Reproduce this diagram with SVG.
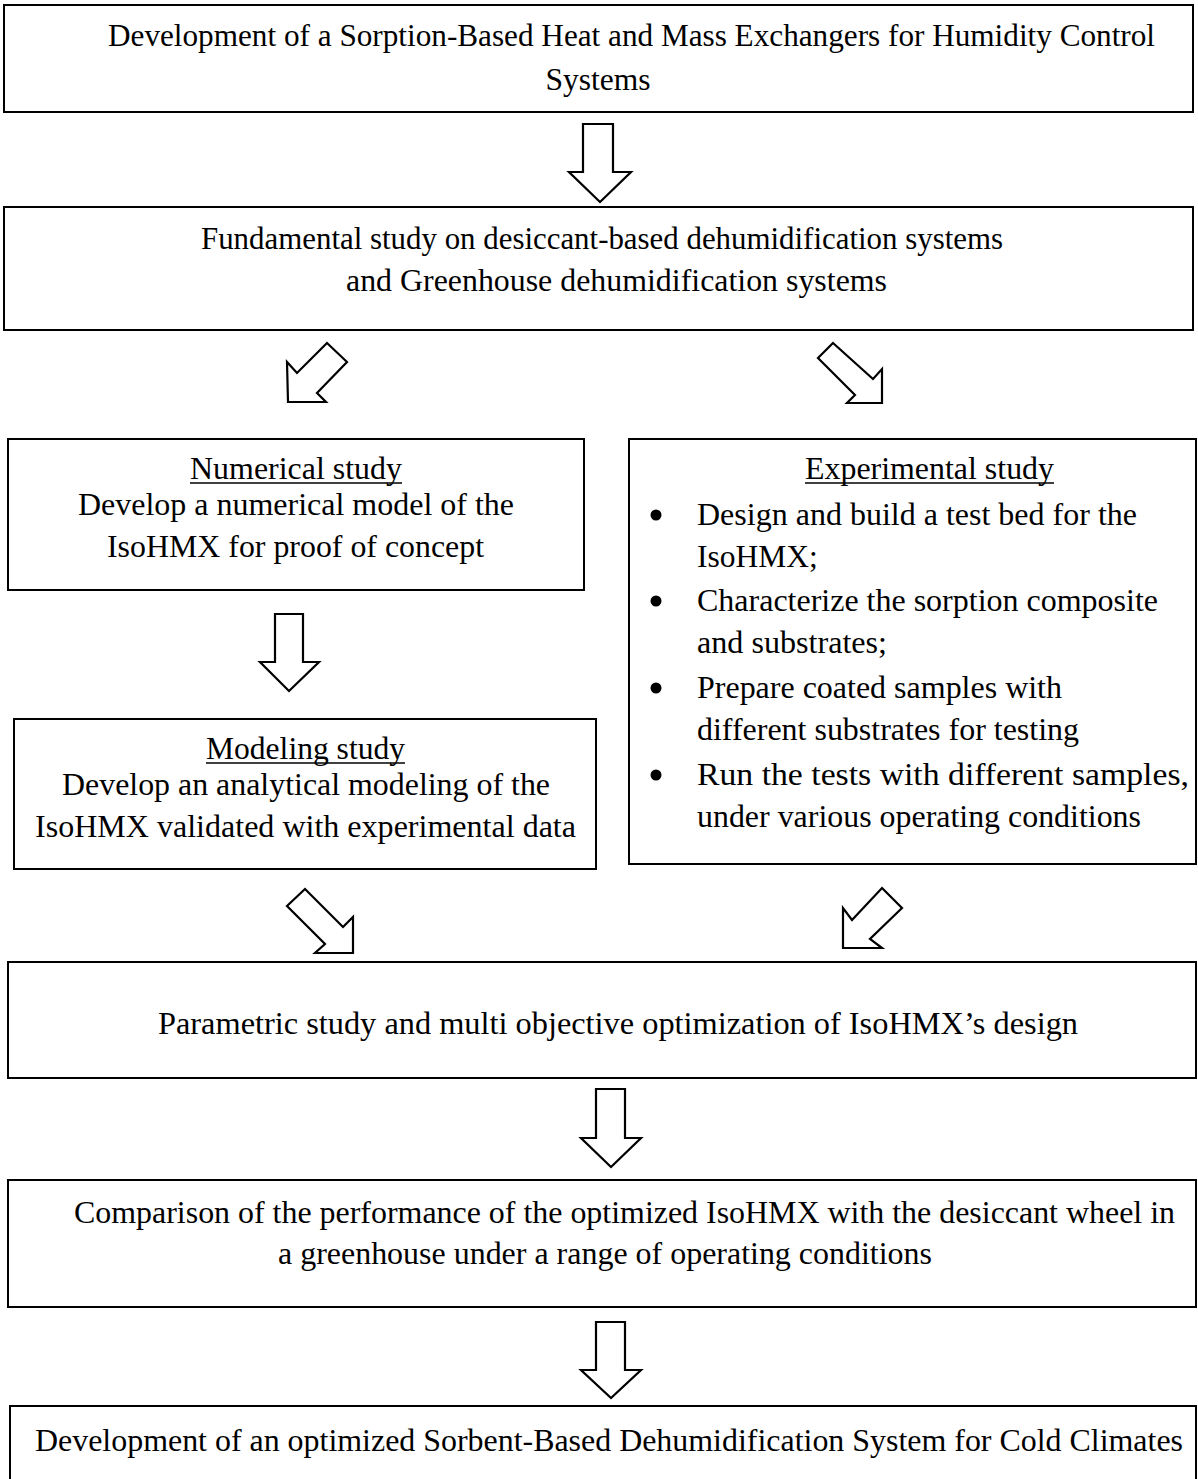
<svg xmlns="http://www.w3.org/2000/svg" width="1198" height="1479" viewBox="0 0 1198 1479">
<style>
.box{fill:#fff;stroke:#000;stroke-width:2}
.arr{fill:#fff;stroke:#000;stroke-width:2.2;stroke-linejoin:miter}
text{font-family:"Liberation Serif","Times New Roman",serif;font-size:31.5px;fill:#000}
.ul{stroke:#000;stroke-width:1.5}
</style>
<rect width="1198" height="1479" fill="#fff"/>
<g id="node-top">
<rect class="box" x="4" y="5" width="1189" height="107"/>
<text x="108" y="46" textLength="1047" lengthAdjust="spacingAndGlyphs">Development of a Sorption-Based Heat and Mass Exchangers for Humidity Control</text>
<text x="598" y="90" text-anchor="middle">Systems</text>
</g>
<g id="node-fundamental">
<rect class="box" x="4" y="207" width="1189" height="123"/>
<text x="201" y="249" textLength="802" lengthAdjust="spacingAndGlyphs">Fundamental study on desiccant-based dehumidification systems</text>
<text x="346" y="291" textLength="541" lengthAdjust="spacingAndGlyphs">and Greenhouse dehumidification systems</text>
</g>
<g id="node-numerical">
<rect class="box" x="8" y="439" width="576" height="151"/>
<text x="190" y="479" textLength="212" lengthAdjust="spacingAndGlyphs">Numerical study</text>
<line class="ul" x1="190" y1="483" x2="402" y2="483"/>
<text x="78" y="515" textLength="436" lengthAdjust="spacingAndGlyphs">Develop a numerical model of the</text>
<text x="107" y="557" textLength="377" lengthAdjust="spacingAndGlyphs">IsoHMX for proof of concept</text>
</g>
<g id="node-experimental">
<rect class="box" x="629" y="439" width="567" height="425"/>
<text x="805" y="479" textLength="249" lengthAdjust="spacingAndGlyphs">Experimental study</text>
<line class="ul" x1="805" y1="483" x2="1054" y2="483"/>
<circle cx="656" cy="515" r="5.5"/>
<text x="697" y="525" textLength="440" lengthAdjust="spacingAndGlyphs">Design and build a test bed for the</text>
<text x="697" y="567">IsoHMX;</text>
<circle cx="656" cy="601" r="5.5"/>
<text x="697" y="611" textLength="461" lengthAdjust="spacingAndGlyphs">Characterize the sorption composite</text>
<text x="697" y="653" textLength="190" lengthAdjust="spacingAndGlyphs">and substrates;</text>
<circle cx="656" cy="688" r="5.5"/>
<text x="697" y="698" textLength="365" lengthAdjust="spacingAndGlyphs">Prepare coated samples with</text>
<text x="697" y="740" textLength="382" lengthAdjust="spacingAndGlyphs">different substrates for testing</text>
<circle cx="656" cy="775" r="5.5"/>
<text x="697" y="785" textLength="492" lengthAdjust="spacingAndGlyphs">Run the tests with different samples,</text>
<text x="697" y="827" textLength="444" lengthAdjust="spacingAndGlyphs">under various operating conditions</text>
</g>
<g id="node-modeling">
<rect class="box" x="14" y="719" width="582" height="150"/>
<text x="206" y="759" textLength="199" lengthAdjust="spacingAndGlyphs">Modeling study</text>
<line class="ul" x1="206" y1="763" x2="405" y2="763"/>
<text x="62" y="795" textLength="488" lengthAdjust="spacingAndGlyphs">Develop an analytical modeling of the</text>
<text x="35" y="837" textLength="541" lengthAdjust="spacingAndGlyphs">IsoHMX validated with experimental data</text>
</g>
<g id="node-parametric">
<rect class="box" x="8" y="962" width="1188" height="116"/>
<text x="158" y="1034" textLength="920" lengthAdjust="spacingAndGlyphs">Parametric study and multi objective optimization of IsoHMX’s design</text>
</g>
<g id="node-comparison">
<rect class="box" x="8" y="1180" width="1188" height="127"/>
<text x="74" y="1223" textLength="1101" lengthAdjust="spacingAndGlyphs">Comparison of the performance of the optimized IsoHMX with the desiccant wheel in</text>
<text x="278" y="1264" textLength="654" lengthAdjust="spacingAndGlyphs">a greenhouse under a range of operating conditions</text>
</g>
<g id="node-final">
<rect class="box" x="10" y="1406" width="1186" height="90"/>
<text x="35" y="1451" textLength="1148" lengthAdjust="spacingAndGlyphs">Development of an optimized Sorbent-Based Dehumidification System for Cold Climates</text>
</g>
<g id="connectors">
<polygon class="arr" points="583,124 613,124 613,172 631,172 600,202 569,172 583,172"/>
<polygon class="arr" points="327,343 347,362 317,393 326,402 288,402 287,362 297,373"/>
<polygon class="arr" points="833,343 873,379 882,369 882,403 847,403 855,395 818,358"/>
<polygon class="arr" points="275,614 303,614 303,662 319,662 289,691 260,662 275,662"/>
<polygon class="arr" points="305,889 343,927 353,917 353,953 315,953 325,944 287,906"/>
<polygon class="arr" points="882,888 902,908 870,939 882,948 843,948 843,908 852,920"/>
<polygon class="arr" points="596,1089 625,1089 625,1138 641,1138 611,1167 581,1138 596,1138"/>
<polygon class="arr" points="596,1322 625,1322 625,1370 641,1370 611,1398 581,1370 596,1370"/>
</g>
</svg>
